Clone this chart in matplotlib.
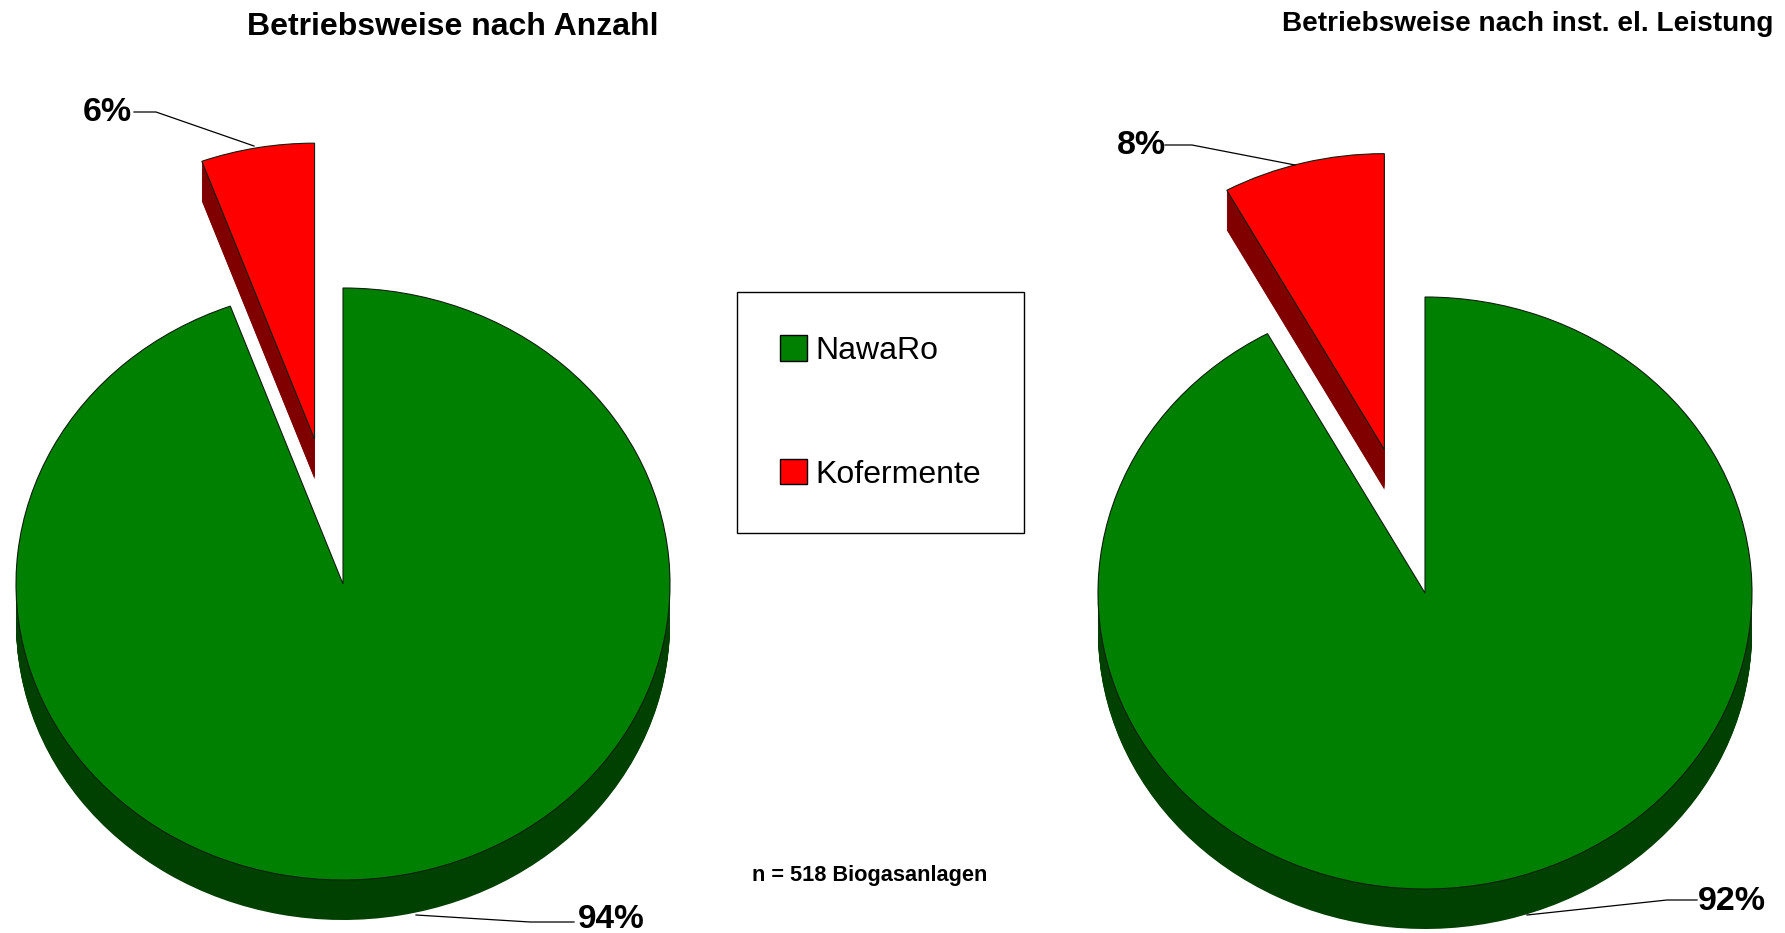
# Betriebsweise der Biogasanlagen - two exploded pies with a fake 3D rim
import matplotlib
matplotlib.use("Agg")
from matplotlib import pyplot as plt
from matplotlib.patches import Patch

W, H = 1785, 933

categories = ["NawaRo", "Kofermente"]
anzahl = [94.4, 5.6]
anzahl_labels = ["94%", "6%"]
leistung = [92, 8]
leistung_labels = ["92%", "8%"]
title_anzahl = "Betriebsweise nach Anzahl"
title_leistung = "Betriebsweise nach inst. el. Leistung"
note = "n = 518 Biogasanlagen"

colors = ["#008000", "#ff0000"]
side_colors = ["#004000", "#800000"]

plt.rcParams['font.family'] = ['Liberation Sans', 'DejaVu Sans']
fig = plt.figure(figsize=(W / 100, H / 100), dpi=100, facecolor="white")

LIM = 1.7


def draw_pie(values, explode, cx, cy, rx, ry, depth):
    # axes placed in pixels so that the unit circle becomes the wanted ellipse
    pos = [(cx - LIM * rx) / W, 1 - (cy + LIM * ry) / H, 2 * LIM * rx / W, 2 * LIM * ry / H]
    ax = fig.add_axes(pos)
    # stack of dark copies is the rim
    for k in range(depth, 0, -1):
        ax.pie(values, colors=side_colors, explode=explode, startangle=90, counterclock=False,
               center=(0, -k / ry), wedgeprops={"linewidth": 0.6, "edgecolor": "none"})
    ax.pie(values, colors=colors, explode=explode, startangle=90, counterclock=False,
           wedgeprops={"linewidth": 0.8, "edgecolor": "#102010"})
    ax.set_aspect("auto")
    ax.set_xlim(-LIM, LIM)
    ax.set_ylim(-LIM, LIM)
    ax.patch.set_alpha(0)
    return ax


draw_pie(anzahl, [0, 0.497], 343, 584, 327, 296, 40)
draw_pie(leistung, [0, 0.50], 1425, 593, 327, 296, 40)

# overlay in pixel coordinates for the labels
over = fig.add_axes([0, 0, 1, 1])
over.set_xlim(0, W)
over.set_ylim(H, 0)
over.axis("off")
over.patch.set_alpha(0)

over.text(453, 27, title_anzahl, fontsize=23, fontweight="bold", ha="center", va="center")
over.text(1528, 24, title_leistung, fontsize=20.2, fontweight="bold", ha="center", va="center")
over.text(870, 876, note, fontsize=15.7, fontweight="bold", ha="center", va="center")

over.text(107, 121, anzahl_labels[1], fontsize=24.5, ha="center", va="baseline", fontweight="bold")
over.text(611, 928, anzahl_labels[0], fontsize=24, ha="center", va="baseline", fontweight="bold")
over.text(1141, 154, leistung_labels[1], fontsize=24.5, ha="center", va="baseline", fontweight="bold")
over.text(1732, 910, leistung_labels[0], fontsize=24.5, ha="center", va="baseline", fontweight="bold")

over.plot([134, 156, 254], [112, 112, 146], color="black", lw=0.9)
over.plot([416, 530, 574], [915, 922, 922], color="black", lw=0.9)
over.plot([1165, 1192, 1295], [145, 145, 165], color="black", lw=0.9)
over.plot([1527, 1667, 1697], [915, 900, 900], color="black", lw=0.9)

handles = [Patch(facecolor=c, edgecolor="black", label=n) for c, n in zip(colors, categories)]
fig.legend(handles=handles, loc="center", bbox_to_anchor=(880.5 / W, 1 - 412.5 / H),
           fontsize=23, handlelength=0.85, handleheight=0.85, handletextpad=0.25,
           labelspacing=2.9, borderpad=1.35, fancybox=False, framealpha=1,
           edgecolor="black")

fig.savefig("out.png", dpi=100)
